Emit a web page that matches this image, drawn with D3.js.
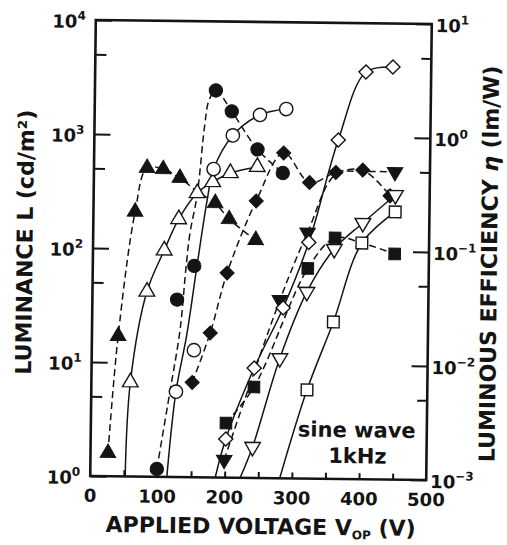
<!DOCTYPE html>
<html>
<head>
<meta charset="utf-8">
<script src="https://cdn.jsdelivr.net/npm/d3@7"></script>
<style>
  html, body { margin: 0; padding: 0; background: #fff; }
  svg { display: block; }
  text { font-family: "DejaVu Sans", sans-serif; font-weight: bold; fill: #141414; }
</style>
</head>
<body>
<svg id="chart" width="507" height="545"></svg>
<script>
// ---- tick labels -------------------------------------------------------
const voltTicks = [0, 100, 200, 300, 400, 500];
const voltMinorTicks = [50, 100, 150, 200, 250, 300, 350, 400, 450];
const lumTicks = [1, 10, 100, 1000, 10000];
const lumTickExp = ["0", "1", "2", "3", "4"];
const lumMinorTicks = [5, 50, 500, 5000];
const effTicks = [0.001, 0.01, 0.1, 1, 10];
const effTickExp = ["\u22123", "\u22122", "\u22121", "0", "1"];
const effMinorTicks = [0.005, 0.05, 0.5, 5];

// ---- luminance L (cd/m²), open symbols, solid lines --------------------
const triUpOpenV = [58, 81, 106, 127, 154, 177, 203, 243];
const triUpOpenL = [6.7, 42, 97, 183, 311, 390, 470, 535];
const triUpOpenCurveV = [52, 58, 81, 106, 127, 154, 177, 203, 243];
const triUpOpenCurveL = [1, 6.7, 42, 97, 183, 311, 390, 470, 535];

const circOpenV = [126, 152, 178, 206, 246, 285];
const circOpenL = [5.6, 13, 507, 1005, 1530, 1735];
const circOpenCurveV = [114, 126, 141, 155, 169, 178, 206, 246, 285];
const circOpenCurveL = [1, 5.6, 17.6, 71, 270, 507, 1005, 1530, 1735];

const diaOpenV = [201, 242, 284, 321, 363, 403, 443];
const diaOpenL = [2.18, 9.2, 31.2, 118, 940, 3740, 4160];
const diaOpenCurveV = [186, 201, 242, 284, 321, 363, 403, 443];
const diaOpenCurveL = [1, 2.18, 9.2, 31.2, 118, 940, 3740, 4160];

const triDnOpenV = [241, 280, 319, 359, 401, 449];
const triDnOpenL = [1.87, 11.3, 43.4, 104, 177, 314];
const triDnOpenCurveV = [223, 241, 280, 319, 359, 401, 449];
const triDnOpenCurveL = [1, 1.87, 11.3, 43.4, 104, 177, 314];

const sqOpenV = [321, 359, 400, 449];
const sqOpenL = [6.0, 23.8, 118, 223];
const sqOpenCurveV = [282, 321, 359, 400, 449];
const sqOpenCurveL = [1, 6.0, 23.8, 118, 223];

// ---- luminous efficiency η (lm/W), filled symbols, dashed lines --------
const triUpFilledV = [26, 39, 62, 79, 103, 128, 181, 202, 242];
const triUpFilledE = [0.0016, 0.017, 0.21, 0.51, 0.50, 0.42, 0.255, 0.185, 0.122];
const triUpFilledCurveV = [26, 39, 62, 79, 103, 128, 154, 181, 202, 242];
const triUpFilledCurveE = [0.0016, 0.017, 0.21, 0.51, 0.50, 0.42, 0.32, 0.255, 0.185, 0.122];

const circFilledV = [99, 126, 151, 180, 204, 243, 281];
const circFilledE = [0.00117, 0.036, 0.0713, 2.48, 1.63, 0.762, 0.476];
const circFilledCurveV = [99, 117, 131, 139, 144, 154, 164, 170, 180, 204, 243, 281];
const circFilledCurveE = [0.00117, 0.00556, 0.0195, 0.0723, 0.138, 0.299, 1.23, 2.04, 2.48, 1.63, 0.762, 0.476];

const diaFilledV = [150, 176, 200, 242, 282, 321, 360, 400, 441];
const diaFilledE = [0.00678, 0.0185, 0.0624, 0.269, 0.714, 0.395, 0.488, 0.515, 0.308];

const triDnFilledV = [199, 279, 319, 448];
const triDnFilledE = [0.00143, 0.0366, 0.144, 0.499];
const triDnFilledCurveV = [199, 279, 319, 360, 400, 448];
const triDnFilledCurveE = [0.00143, 0.0366, 0.144, 0.47, 0.50, 0.499];

const sqFilledV = [201, 242, 320, 360, 449];
const sqFilledE = [0.00301, 0.00627, 0.0697, 0.130, 0.0955];
const sqFilledCurveV = [201, 242, 320, 360, 400, 449];
const sqFilledCurveE = [0.00301, 0.00627, 0.0697, 0.130, 0.118, 0.0955];

// ---- layout ------------------------------------------------------------
const ink = "#141414";
const plot = { left: 93, right: 429, top: 22, bottom: 478 };

const x = d3.scaleLinear().domain([0, 500]).range([plot.left, plot.right]);
const yL = d3.scaleLog().domain([1, 1e4]).range([plot.bottom, plot.top]);
const yE = d3.scaleLog().domain([1e-3, 10]).range([plot.bottom, plot.top]);

const svg = d3.select("#chart");
svg.append("rect").attr("width", 507).attr("height", 545).attr("fill", "#fff");

// the printed figure sits slightly tilted on the page
const root = svg.append("g").attr("transform", "rotate(0.7 261 250)");

svg.append("defs").append("clipPath").attr("id", "plotClip")
  .append("rect")
  .attr("x", plot.left).attr("y", plot.top)
  .attr("width", plot.right - plot.left).attr("height", plot.bottom - plot.top);

// ---- axes (ticks point inward) -----------------------------------------
function styleAxis(g, w) {
  g.select(".domain").remove();
  g.selectAll(".tick line").attr("stroke", ink).attr("stroke-width", w);
}

root.append("g").attr("transform", `translate(${plot.left},0)`)
  .call(d3.axisLeft(yL).tickValues(lumTicks).tickSize(-16).tickFormat(""))
  .call(styleAxis, 2);
root.append("g").attr("transform", `translate(${plot.left},0)`)
  .call(d3.axisLeft(yL).tickValues(lumMinorTicks).tickSize(-11).tickFormat(""))
  .call(styleAxis, 2);
root.append("g").attr("transform", `translate(${plot.right},0)`)
  .call(d3.axisRight(yE).tickValues(effTicks).tickSize(-16).tickFormat(""))
  .call(styleAxis, 2);
root.append("g").attr("transform", `translate(${plot.right},0)`)
  .call(d3.axisRight(yE).tickValues(effMinorTicks).tickSize(-10).tickFormat(""))
  .call(styleAxis, 2);
root.append("g").attr("transform", `translate(0,${plot.bottom})`)
  .call(d3.axisBottom(x).tickValues(voltMinorTicks).tickSize(-6).tickFormat(""))
  .call(styleAxis, 2);

// frame
root.append("rect")
  .attr("x", plot.left).attr("y", plot.top)
  .attr("width", plot.right - plot.left).attr("height", plot.bottom - plot.top)
  .attr("fill", "none").attr("stroke", ink).attr("stroke-width", 2.6);

// ---- tick labels -------------------------------------------------------
function powerLabel(sel, exps) {
  sel.each(function (d, i) {
    const t = d3.select(this);
    t.append("tspan").text("10");
    t.append("tspan").attr("dy", -8).attr("font-size", 12).text(exps[i]);
  });
}

root.append("g").selectAll("text").data(lumTicks).join("text")
  .attr("x", plot.left - 10).attr("y", d => yL(d) + 8)
  .attr("text-anchor", "end").attr("font-size", 18)
  .call(powerLabel, lumTickExp);

root.append("g").selectAll("text").data(effTicks).join("text")
  .attr("x", plot.right + 4).attr("y", d => yE(d) + 8)
  .attr("text-anchor", "start").attr("font-size", 18)
  .call(powerLabel, effTickExp);

root.append("g").selectAll("text").data(voltTicks).join("text")
  .attr("x", d => x(d)).attr("y", 504)
  .attr("text-anchor", "middle").attr("font-size", 18)
  .text(d => d);

// ---- axis titles -------------------------------------------------------
const xTitle = root.append("text")
  .attr("x", 264).attr("y", 534).attr("text-anchor", "middle").attr("font-size", 22);
xTitle.append("tspan").text("APPLIED VOLTAGE V");
xTitle.append("tspan").attr("dy", 4).attr("font-size", 12).text("OP");
xTitle.append("tspan").attr("dy", -4).text(" (V)");

root.append("text")
  .attr("transform", "translate(32.5,245) rotate(-90)")
  .attr("text-anchor", "middle").attr("font-size", 22)
  .text("LUMINANCE L (cd/m\u00B2)");

const rTitle = root.append("text")
  .attr("transform", "translate(497,261) rotate(-90)")
  .attr("text-anchor", "middle").attr("font-size", 22);
rTitle.append("tspan").text("LUMINOUS EFFICIENCY ");
rTitle.append("tspan").attr("font-style", "italic").text("\u03B7");
rTitle.append("tspan").text(" (lm/W)");

root.append("text").attr("x", 359).attr("y", 436)
  .attr("text-anchor", "middle").attr("font-size", 21).text("sine wave");
root.append("text").attr("x", 360).attr("y", 462)
  .attr("text-anchor", "middle").attr("font-size", 21).text("1kHz");

// ---- series ------------------------------------------------------------
const zip = (a, b) => a.map((v, i) => [v, b[i]]);

const series = [
  { sc: yL, dash: false, shape: "triUp",  filled: false, pts: zip(triUpOpenV, triUpOpenL),   curve: zip(triUpOpenCurveV, triUpOpenCurveL) },
  { sc: yL, dash: false, shape: "circle", filled: false, pts: zip(circOpenV, circOpenL),     curve: zip(circOpenCurveV, circOpenCurveL) },
  { sc: yL, dash: false, shape: "diamond",filled: false, pts: zip(diaOpenV, diaOpenL),       curve: zip(diaOpenCurveV, diaOpenCurveL) },
  { sc: yL, dash: false, shape: "triDn",  filled: false, pts: zip(triDnOpenV, triDnOpenL),   curve: zip(triDnOpenCurveV, triDnOpenCurveL) },
  { sc: yL, dash: false, shape: "square", filled: false, pts: zip(sqOpenV, sqOpenL),         curve: zip(sqOpenCurveV, sqOpenCurveL) },
  { sc: yE, dash: true,  shape: "triUp",  filled: true,  pts: zip(triUpFilledV, triUpFilledE), curve: zip(triUpFilledCurveV, triUpFilledCurveE) },
  { sc: yE, dash: true,  shape: "circle", filled: true,  pts: zip(circFilledV, circFilledE), curve: zip(circFilledCurveV, circFilledCurveE) },
  { sc: yE, dash: true,  shape: "diamond",filled: true,  pts: zip(diaFilledV, diaFilledE),   curve: zip(diaFilledV, diaFilledE) },
  { sc: yE, dash: true,  shape: "triDn",  filled: true,  pts: zip(triDnFilledV, triDnFilledE), curve: zip(triDnFilledCurveV, triDnFilledCurveE) },
  { sc: yE, dash: true,  shape: "square", filled: true,  pts: zip(sqFilledV, sqFilledE),     curve: zip(sqFilledCurveV, sqFilledCurveE) }
];

const lineLayer = root.append("g").attr("clip-path", "url(#plotClip)");
series.forEach(s => {
  const line = d3.line()
    .x(d => x(d[0])).y(d => s.sc(d[1]))
    .curve(d3.curveCatmullRom.alpha(0.5));
  lineLayer.append("path")
    .datum(s.curve)
    .attr("d", line)
    .attr("fill", "none")
    .attr("stroke", ink)
    .attr("stroke-width", 1.5)
    .attr("stroke-dasharray", s.dash ? "7,4" : null);
});

const symbols = {
  circle:  { path: d3.symbol(d3.symbolCircle, 140)(),   rot: 0 },
  triUp:   { path: d3.symbol(d3.symbolTriangle, 105)(), rot: 0 },
  triDn:   { path: d3.symbol(d3.symbolTriangle, 105)(), rot: 180 },
  diamond: { path: d3.symbol(d3.symbolSquare, 100)(),   rot: 45 },
  square:  { path: d3.symbol(d3.symbolSquare, 135)(),   rot: 0 }
};

const markLayer = root.append("g");
// filled symbols first, open symbols on top
[...series.filter(s => s.filled), ...series.filter(s => !s.filled)].forEach(s => {
  const sym = symbols[s.shape];
  markLayer.append("g").selectAll("path").data(s.pts).join("path")
    .attr("d", sym.path)
    .attr("transform", d => `translate(${x(d[0])},${s.sc(d[1])}) rotate(${sym.rot})`)
    .attr("fill", s.filled ? ink : "#fff")
    .attr("stroke", ink)
    .attr("stroke-width", s.filled ? 1 : 1.4);
});
</script>
</body>
</html>
